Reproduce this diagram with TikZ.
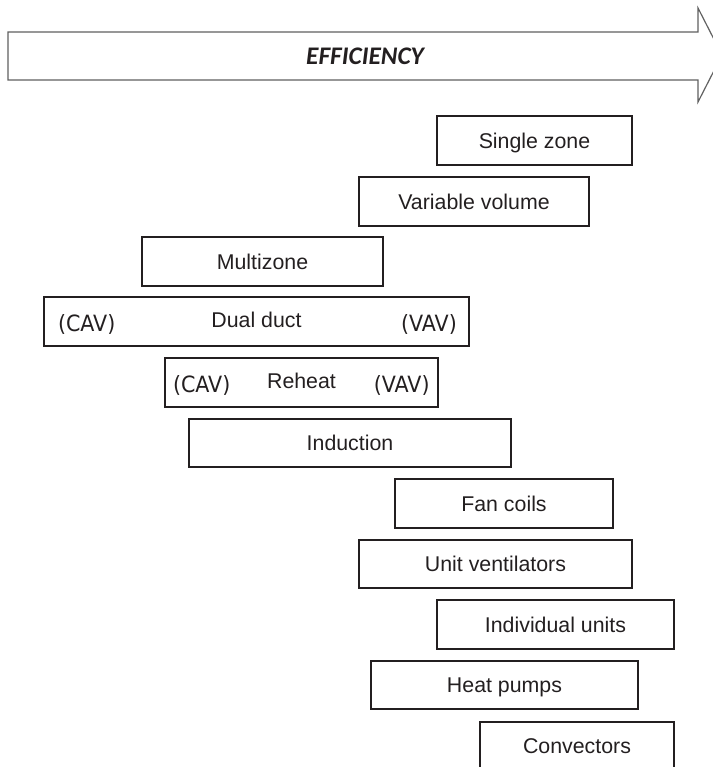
\documentclass[tikz,border=0pt]{standalone}
\usepackage{fontspec}
\setmainfont{Liberation Sans}
\newfontfamily\effont{Carlito}
\newfontfamily\cavfont[FakeStretch=0.92]{DejaVu Sans}
\usetikzlibrary{fit}
\definecolor{ink}{HTML}{231F20}
\begin{document}
\begin{tikzpicture}[x=0.75pt,y=-0.75pt,
  sbox/.style={draw=ink, line width=1.5pt, inner sep=0pt},
  lbl/.style={font=\fontsize{16}{19}\selectfont, text=ink, text height=11.5pt, text depth=0pt, inner sep=0pt},
  side/.style={font=\cavfont\fontsize{16.8}{20}\selectfont, text=ink, text height=12.2pt, text depth=0pt, inner sep=0pt},
  efftxt/.style={font=\effont\bfseries\itshape\fontsize{19}{22}\selectfont, text=ink, text height=12.2pt, text depth=0pt, inner sep=0pt}]
\useasboundingbox (0,0) rectangle (713,767);
\clip (0,0) rectangle (713,767);
% efficiency arrow
\draw[gray!75!black, line width=0.9pt, line join=miter]
  (8,32) -- (698,32) -- (698,8) -- (722,55) -- (698,102) -- (698,80) -- (8,80) -- cycle;
\node[efftxt] (eff) at (365,56) {EFFICIENCY};
% boxes
\node[sbox, fit={(437,116) (632,165)}] (sz) {};
\node[lbl] (szt) at (sz.center) {Single zone};
\node[sbox, fit={(359,177) (589,226)}] (vv) {};
\node[lbl] (vvt) at (vv.center) {Variable volume};
\node[sbox, fit={(142,237) (383,286)}] (mz) {};
\node[lbl] (mzt) at (mz.center) {Multizone};
\node[sbox, fit={(44,297) (469,346)}] (dd) {};
\node[lbl] (ddt) at (256.5,319.8) {Dual duct};
\node[side] (ddc) at (86.7,323) {(CAV)};
\node[side] (ddv) at (429,323) {(VAV)};
\node[sbox, fit={(165,358) (438,407)}] (rh) {};
\node[lbl] (rht) at (301.5,381) {Reheat};
\node[side] (rhc) at (201.7,384) {(CAV)};
\node[side] (rhv) at (401.7,384) {(VAV)};
\node[sbox, fit={(189,419) (511,467)}] (ind) {};
\node[lbl] (indt) at (ind.center) {Induction};
\node[sbox, fit={(395,479) (613,528)}] (fc) {};
\node[lbl] (fct) at (fc.center) {Fan coils};
\node[sbox, fit={(359,540) (632,588)}] (uv) {};
\node[lbl] (uvt) at (uv.center) {Unit ventilators};
\node[sbox, fit={(437,600) (674,649)}] (iu) {};
\node[lbl] (iut) at (iu.center) {Individual units};
\node[sbox, fit={(371,661) (638,709)}] (hp) {};
\node[lbl] (hpt) at (hp.center) {Heat pumps};
\node[sbox, fit={(480,722) (674,770)}] (cv) {};
\node[lbl] (cvt) at (cv.center) {Convectors};
\end{tikzpicture}
\end{document}
